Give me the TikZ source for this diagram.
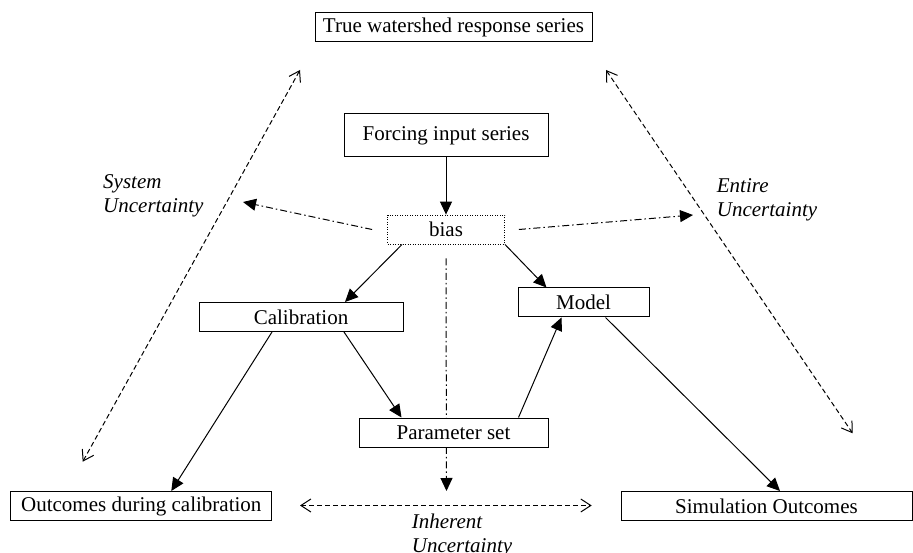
\documentclass[tikz,border=0pt]{standalone}
\usepackage{fontspec}
\setmainfont{Liberation Serif}
\usetikzlibrary{arrows.meta,backgrounds}
\begin{document}
\begin{tikzpicture}[x=1pt,y=-1pt,
  every node/.style={font=\fontsize{21}{23}\selectfont},
  boxnode/.style={draw,line width=1pt,fill=white,inner sep=0pt,minimum height=29pt},
  dotbox/.style={draw,dash pattern=on 1pt off 1.5pt,line width=0.8pt,fill=white,inner sep=0pt,minimum height=29pt},
  arr/.style={line width=1pt,-{Triangle[length=13pt,width=12pt]}},
  dasharr/.style={line width=1pt,dash pattern=on 7pt off 3pt on 1.5pt off 3pt,-{Triangle[length=13pt,width=12pt]}},
  dbl/.style={line width=1pt,dash pattern=on 5pt off 3pt,{Straight Barb[length=10pt,width=13pt]}-{Straight Barb[length=10pt,width=13pt]}},
  lbl/.style={font=\fontsize{21}{24}\selectfont\itshape,align=left,anchor=west,inner sep=0pt}]
\useasboundingbox (0,0) rectangle (913,553);
% nodes
\node[boxnode,minimum width=277pt] (true) at (453.5,27.5) {True watershed response series};
\node[boxnode,minimum width=204pt,minimum height=43pt] (forcing) at (446,135.5) {Forcing input series};
\node[dotbox,minimum width=117pt] (bias) at (446,229.5) {bias};
\node[boxnode,minimum width=131pt] (model) at (583.5,302.5) {Model};
\node[boxnode,minimum width=204pt] (cal) at (301,317) {Calibration};
\node[boxnode,minimum width=189pt] (param) at (453.5,432.5) {Parameter set};
\node[boxnode,minimum width=261pt] (outc) at (141.3,506) {Outcomes during calibration};
\node[boxnode,minimum width=291pt] (sim) at (766.5,506) {Simulation Outcomes};
% free ends
\coordinate (systip) at (243,202);
\coordinate (enttip) at (693,215);
\coordinate (inhtip) at (446.5,491);
\coordinate (L1) at (82.7,461.7);
\coordinate (L2) at (300,70);
\coordinate (R1) at (606,70);
\coordinate (R2) at (852.7,433.3);
\coordinate (B1) at (300,505.5);
\coordinate (B2) at (591.7,505.5);
% labels
\node[lbl] (syslbl) at (103,196) {System\\Uncertainty};
\node[lbl] (entlbl) at (716.7,200) {Entire\\Uncertainty};
\node[lbl] (inhlbl) at (411.7,535) {Inherent\\Uncertainty};
% connectors
\begin{pgfonlayer}{background}
\draw[dasharr] ([yshift=-14pt]bias.south) -- (inhtip);
\end{pgfonlayer}
\draw[arr] (forcing.south) -- (bias.north);
\draw[arr] ([xshift=15pt]bias.south west) -- ([xshift=44pt]cal.north);
\draw[arr] (bias.south east) -- ([xshift=-37pt]model.north);
\draw[arr] ([xshift=43pt]cal.south) -- ([xshift=-52pt]param.north);
\draw[arr] ([xshift=-29pt]cal.south) -- ([xshift=30pt]outc.north);
\draw[arr] ([xshift=65pt]param.north) -- ([xshift=-22pt]model.south);
\draw[arr] ([xshift=22pt]model.south) -- ([xshift=13.5pt]sim.north);
\draw[dasharr] ([xshift=-15pt]bias.west) -- (systip);
\draw[dasharr] ([xshift=14pt]bias.east) -- (enttip);
\draw[dbl] (L1) -- (L2);
\draw[dbl] (R1) -- (R2);
\draw[dbl] (B1) -- (B2);
\end{tikzpicture}
\end{document}
